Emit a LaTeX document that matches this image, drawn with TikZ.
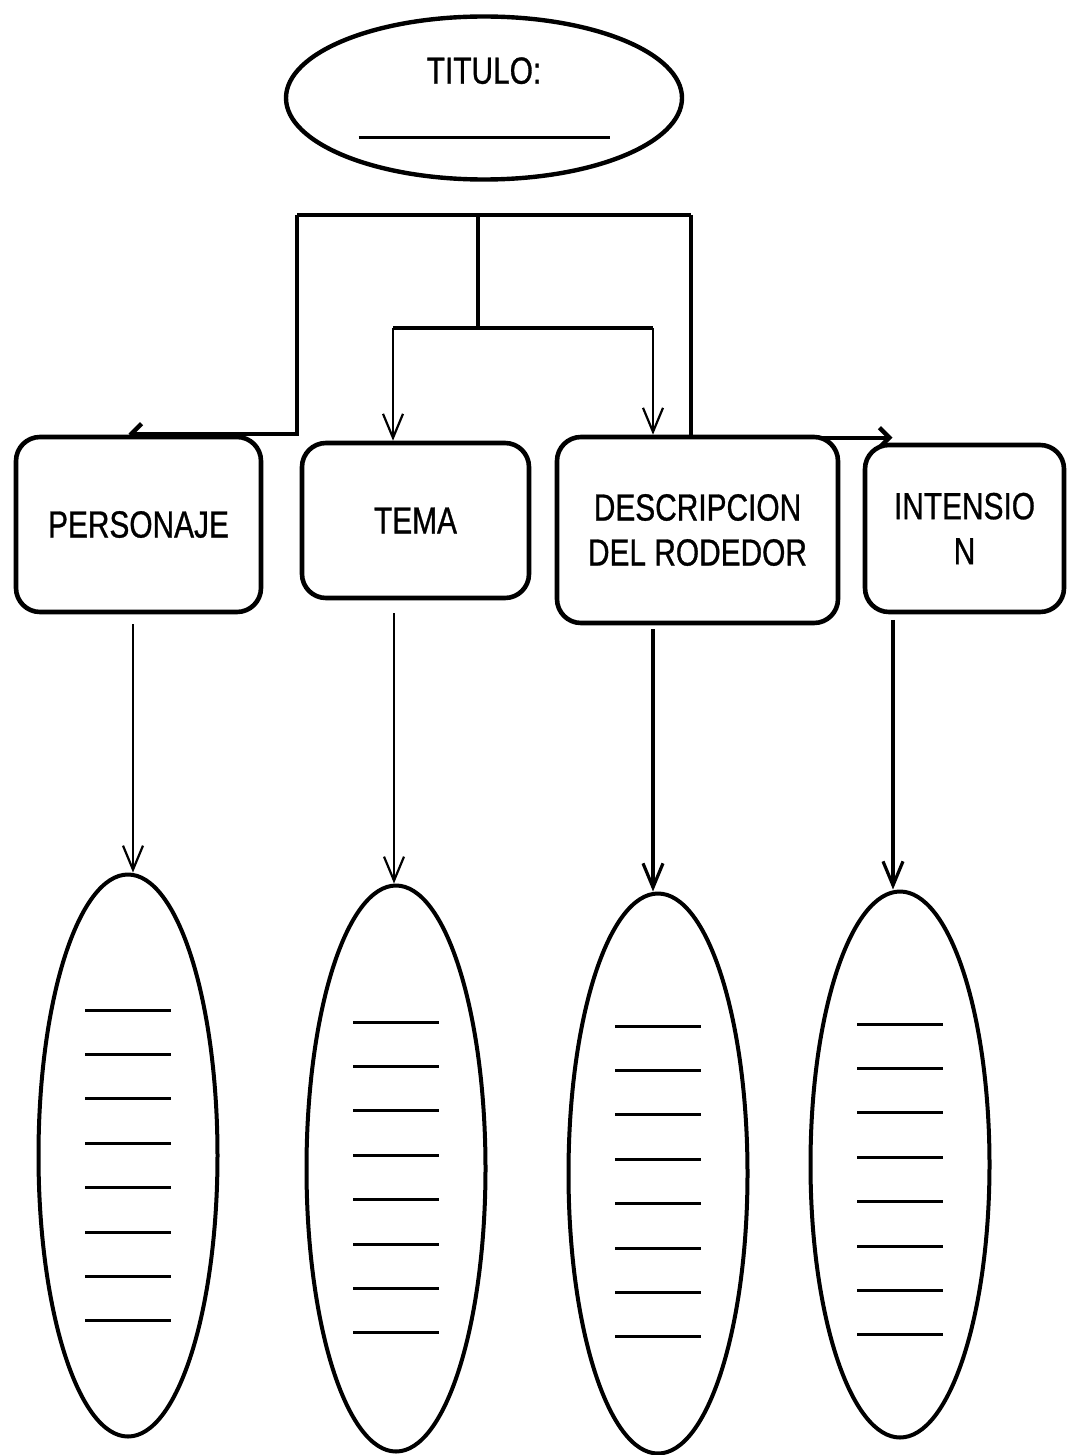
\documentclass[tikz,border=0pt]{standalone}
\usepackage{fontspec}
\setmainfont{Liberation Sans}[FakeStretch=0.79, FakeBold=0.8]
\usepackage{tikz}
\usetikzlibrary{shapes.geometric}
\usetikzlibrary{arrows.meta, backgrounds}

\begin{document}
\begin{tikzpicture}[x=0.5pt, y=-0.5pt,
    caja/.style={rectangle, rounded corners=12pt, draw, line width=2.3pt, fill=white, align=center, inner sep=0pt, font=\fontsize{18.9}{22.5}\selectfont},
    lista/.style={ellipse, draw, line width=2pt, fill=white, minimum width=89.5pt, inner sep=0pt},
    renglon/.style={line width=1.5pt},
    rama/.style={line width=2.2pt},
    flecha/.style={line width=1.1pt, -{Straight Barb[length=12pt,width=10pt]}}]
        \useasboundingbox (0,0) rectangle (1067,1455);
        % Title
        \node[ellipse, draw, line width=2.2pt, fill=white, minimum width=198pt, minimum height=81.5pt, inner sep=0pt, align=center, font=\fontsize{18.9}{22.5}\selectfont] (titulo) at (484,98) {TITULO:\\[5pt]\rule{125.5pt}{1.5pt}};
        % Boxes
        \node[caja, minimum width=122.5pt, minimum height=87.5pt] (personaje) at (138.5,524.5) {PERSONAJE};
        \node[caja, minimum width=113.5pt, minimum height=77.5pt] (tema) at (415.5,520.5) {TEMA};
        \node[caja, minimum width=140.5pt, minimum height=93pt] (descripcion) at (697.5,530) {DESCRIPCION\\DEL RODEDOR};
        \node[caja, minimum width=99.5pt, minimum height=83.5pt] (intension) at (964.5,528.5) {INTENSIO\\N};
        % Lists
        \node[lista, minimum height=281pt] (lista1) at (128,1155.5) {};
        \node[lista, minimum height=283pt] (lista2) at (396,1168.5) {};
        \node[lista, minimum height=280pt] (lista3) at (658,1173.5) {};
        \node[lista, minimum height=273pt] (lista4) at (900,1164.5) {};
        \foreach \e/\d in {lista1/-145.5, lista2/-146.5, lista3/-147.5, lista4/-140.5}
            \foreach \k in {0,...,7}
                \draw[renglon] ([shift={(-43,{\d+44.4*\k})}]\e.center) -- ++(86,0);
        % Connectors
        \coordinate (ramaI) at (297,215);
        \coordinate (ramaC) at (478,215);
        \coordinate (ramaD) at (691,215);
        \coordinate (nudo) at (478,328);
        \coordinate (nudoI) at (393,328);
        \coordinate (nudoD) at (653,328);
        \coordinate (bajada1) at (133,0);
        \coordinate (bajada2) at (394,0);
        \coordinate (bajada3) at (653,0);
        \coordinate (bajada4) at (893,0);
        \begin{pgfonlayer}{background}
        \draw[rama] (ramaI) -- (ramaD);
        \draw[rama] (ramaC) -- (nudo);
        \draw[rama] (nudoI) -- (nudoD);
        \draw[flecha] (nudoI) -- (nudoI |- tema.north);
        \draw[flecha] (nudoD) -- (nudoD |- descripcion.north);
        \draw[rama, -{Straight Barb[length=5pt,width=10pt]}] (ramaI) |- ([xshift=-5pt,yshift=0.5pt]personaje.north);
        \draw[rama, -{Straight Barb[length=5pt,width=10pt]}] (ramaD) |- ([xshift=-36pt,yshift=2.5pt]intension.north);
        \end{pgfonlayer}
        \draw[flecha, shorten <=5pt] (bajada1 |- personaje.south) -- (bajada1 |- lista1.north);
        \draw[flecha, shorten <=6.5pt] (bajada2 |- tema.south) -- (bajada2 |- lista2.north);
        \draw[flecha, line width=1.6pt, shorten <=2pt] (bajada3 |- descripcion.south) -- (bajada3 |- lista3.north);
        \draw[flecha, line width=1.6pt, shorten <=2.75pt] (bajada4 |- intension.south) -- (bajada4 |- lista4.north);
    \end{tikzpicture}
\end{document}
